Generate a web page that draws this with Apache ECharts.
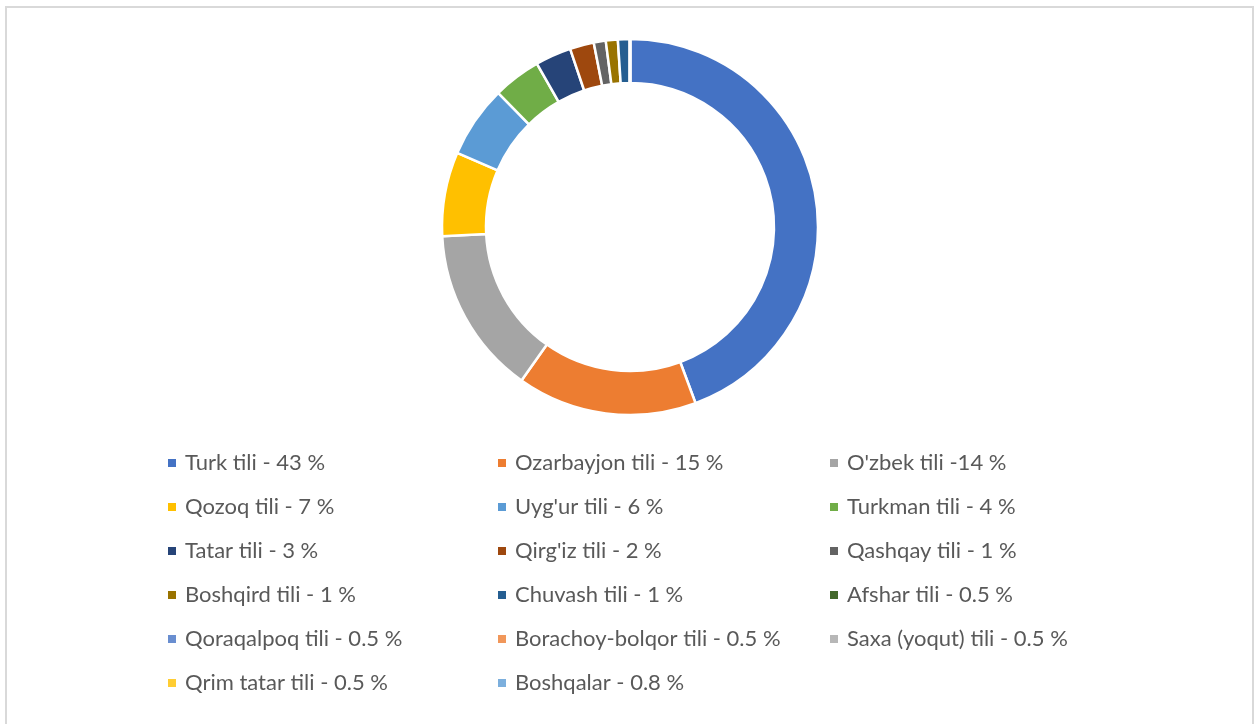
<!DOCTYPE html>
<html>
<head>
<meta charset="utf-8">
<script src="https://cdn.jsdelivr.net/npm/echarts@6/dist/echarts.min.js"></script>
<style>
html,body{margin:0;padding:0;background:#fff;}
#til_donut_echart{width:1258px;height:724px;}
</style>
</head>
<body>
<div id="til_donut_echart"></div>
<script>
// legend texts and values (the 0.5/0.8 groups do not show in the ring)
var til_names = ["Turk tili - 43 %","Ozarbayjon tili - 15 %","O'zbek tili -14 %","Qozoq tili - 7 %","Uyg'ur tili - 6 %","Turkman tili - 4 %","Tatar tili - 3 %","Qirg'iz tili - 2 %","Qashqay tili - 1 %","Boshqird tili - 1 %","Chuvash tili - 1 %","Afshar tili - 0.5 %","Qoraqalpoq tili - 0.5 %","Borachoy-bolqor tili - 0.5 %","Saxa (yoqut) tili - 0.5 %","Qrim tatar tili - 0.5 %","Boshqalar - 0.8 %"];
var til_values = [43,15,14,7,6,4,3,2,1,1,1,0,0,0,0,0,0];
var til_colors = ['#4472C4','#ED7D31','#A5A5A5','#FFC000','#5B9BD5','#70AD47','#264478','#9E480E','#636363','#997300','#255E91','#43682B','#698ED0','#F1975A','#B7B7B7','#FFCD33','#7CAFDD'];

var til_dom = document.getElementById("til_donut_echart");
var til_chart = echarts.init(til_dom);

var til_data = [];
for (var i = 0; i < til_names.length; i++) {
    til_data.push({name: til_names[i], value: til_values[i]});
}

// three legend columns, filled row by row
var legendCols = [[],[],[]];
for (var i = 0; i < til_names.length; i++) {
    legendCols[i % 3].push(til_names[i]);
}
var colLeft = [166, 496, 828];
var legends = [];
for (var c = 0; c < 3; c++) {
    legends.push({
        orient: 'vertical',
        left: colLeft[c],
        top: 451,
        padding: 0,
        itemWidth: 10,
        itemHeight: 10,
        itemGap: 20,
        icon: 'rect',
        selectedMode: false,
        textStyle: {color: '#595959', fontSize: 22, fontFamily: 'Lato', lineHeight: 24, padding: [0,0,0,3]},
        data: legendCols[c]
    });
}

var til_option = {
    color: til_colors,
    animation: false,
    legend: legends,
    graphic: [{
        type: 'rect',
        shape: {x: 6, y: 7, width: 1247, height: 730},
        style: {fill: 'none', stroke: '#d9d9d9', lineWidth: 2},
        silent: true
    }],
    series: [{
        name: 'Tillar',
        type: 'pie',
        center: [630, 227],
        radius: [144, 188],
        startAngle: 90,
        clockwise: true,
        label: {show: false},
        labelLine: {show: false},
        itemStyle: {borderColor: '#fff', borderWidth: 2.5},
        emphasis: {disabled: true},
        data: til_data
    }]
};
til_chart.setOption(til_option, true);
</script>
</body>
</html>
